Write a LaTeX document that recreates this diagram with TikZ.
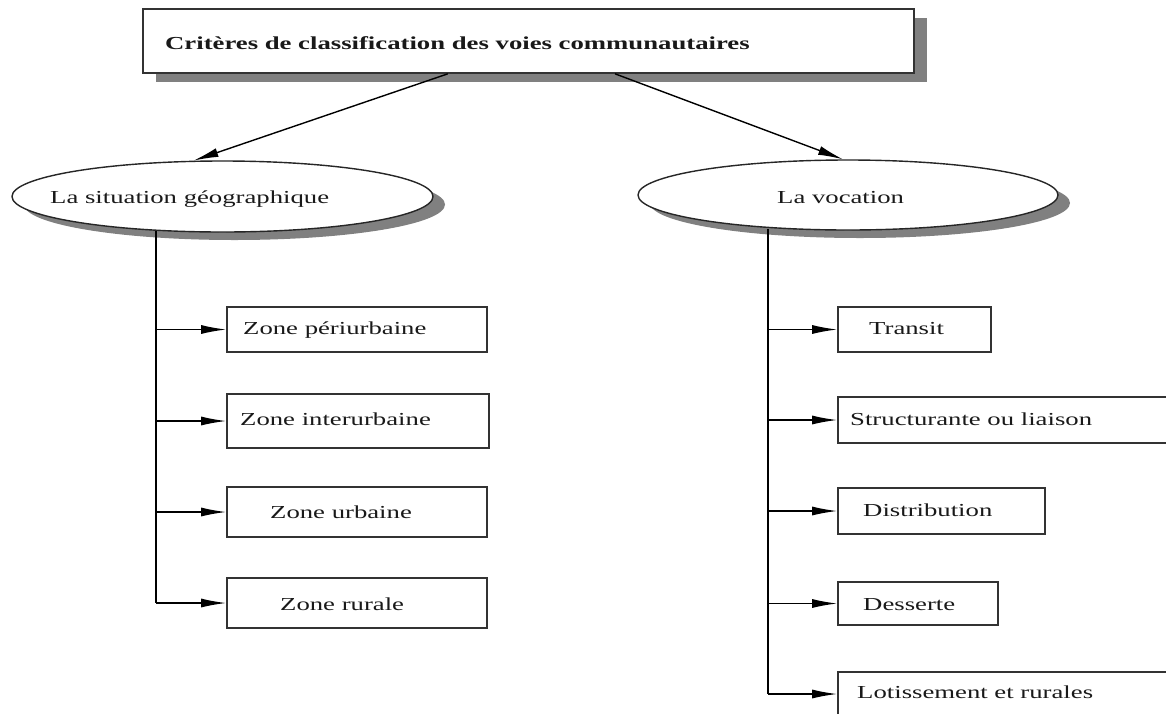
\documentclass[tikz,border=0pt]{standalone}
\usepackage{fontspec}
\setmainfont{Liberation Serif}[FakeStretch=1.46]
\usetikzlibrary{arrows.meta,shapes.geometric,shadows,calc}
\begin{document}
\begin{tikzpicture}[x=1pt,y=-1pt,
  txt/.style={font=\fontsize{18.3}{22}\selectfont, text=black!90},
  boxnode/.style={draw=black!80, line width=1.6pt, fill=white, inner sep=0pt},
  shadowed/.style={drop shadow={shadow xshift=12pt, shadow yshift=-8pt, fill=black!50, opacity=1}},
  ovalnode/.style={ellipse, draw=black!85, line width=1.4pt, fill=white, inner sep=0pt, shadowed},
  lbl/.style={txt, anchor=base west, inner sep=0pt},
  arr/.style={line width=1.4pt, -{Latex[length=25pt,width=9pt]}},
  trunk/.style={line width=1.6pt}]
\useasboundingbox[fill=white] (0,0) rectangle (1166,713);

% title box
\node[boxnode, minimum width=771pt, minimum height=64pt,
      drop shadow={shadow xshift=13pt, shadow yshift=-9pt, fill=black!50, opacity=1}]
      (title) at (528.5,41) {};
\node[lbl, font=\fontsize{18.3}{22}\selectfont\bfseries] (ttitle) at (165,49)
      {Critères de classification des voies communautaires};

% ellipses
\node[ovalnode, minimum width=421pt, minimum height=71pt] (geo) at (222.5,196.5) {};
\node[ovalnode, minimum width=420pt, minimum height=70pt] (voc) at (848,195) {};
\node[lbl] (tgeo) at (50,203) {La situation géographique};
\node[lbl] (tvoc) at (777,203) {La vocation};

% arrows from title
\draw[arr] ($(title.south west)!0.3956!(title.south east)$) -- (geo.129);
\draw[arr] ($(title.south west)!0.612!(title.south east)$) -- (voc.98);

% left boxes
\node[boxnode, minimum width=260pt, minimum height=45pt] (z1) at (357,329.5) {};
\node[boxnode, minimum width=262pt, minimum height=54pt] (z2) at (358,421) {};
\node[boxnode, minimum width=260pt, minimum height=50pt] (z3) at (357,512) {};
\node[boxnode, minimum width=260pt, minimum height=50pt] (z4) at (357,603) {};
\node[lbl] (tz1) at (243,334) {Zone périurbaine};
\node[lbl] (tz2) at (240,425) {Zone interurbaine};
\node[lbl] (tz3) at (270,518) {Zone urbaine};
\node[lbl] (tz4) at (280,610) {Zone rurale};

% right boxes
\node[boxnode, minimum width=153pt, minimum height=45pt] (r1) at (914.5,329.5) {};
\node[boxnode, minimum width=342pt, minimum height=46pt] (r2) at (1009,420) {};
\node[boxnode, minimum width=207pt, minimum height=46pt] (r3) at (941.5,511) {};
\node[boxnode, minimum width=160pt, minimum height=43pt] (r4) at (918,603.5) {};
\node[boxnode, minimum width=342pt, minimum height=44pt] (r5) at (1009,694) {};
\node[lbl] (tr1) at (869,334) {Transit};
\node[lbl] (tr2) at (850,425) {Structurante ou liaison};
\node[lbl] (tr3) at (863,516) {Distribution};
\node[lbl] (tr4) at (863,610) {Desserte};
\node[lbl] (tr5) at (857,698) {Lotissement et rurales};

% trunks
\coordinate (gtop) at (156,231);
\coordinate (vtop) at (768,229);
\draw[trunk] (gtop) -- (z4.west -| gtop);
\draw[trunk] (vtop) -- (r5.west -| vtop);

% branch arrows
\foreach \b in {z1,z2,z3,z4}
  \draw[arr] (\b.west -| gtop) -- (\b.west);
\foreach \b in {r1,r2,r3,r4,r5}
  \draw[arr] (\b.west -| vtop) -- (\b.west);
\end{tikzpicture}
\end{document}
